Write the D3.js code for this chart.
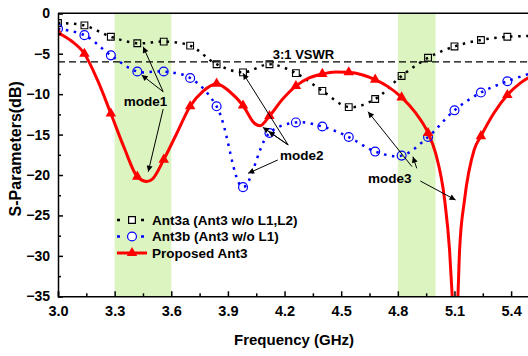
<!DOCTYPE html>
<html>
<head>
<meta charset="utf-8">
<script src="https://cdn.jsdelivr.net/npm/d3@7"></script>
<style>
  body { margin: 0; background: #fff; }
</style>
</head>
<body>
<div id="chart"></div>
<script>
// marker frequencies (GHz) shared by the two reference antennas
const markerFreq = [3.00, 3.14, 3.28, 3.42, 3.56, 3.70, 3.84, 3.98, 4.12, 4.26, 4.40, 4.54, 4.68, 4.82, 4.96, 5.10, 5.24, 5.38, 5.52];
const ant3a = [-1.2, -1.5, -2.9, -3.7, -3.5, -4.0, -6.3, -7.3, -6.3, -7.4, -9.6, -11.6, -10.6, -7.75, -5.5, -4.1, -3.3, -2.9, -2.8];
const ant3b = [-1.9, -2.7, -5.2, -7.2, -7.2, -8.0, -11.5, -21.5, -14.8, -13.5, -14.0, -15.3, -17.1, -17.6, -15.3, -12.0, -9.8, -8.4, -7.3];

// proposed antenna, denser sampling around the resonances
const propFreq = [3.00, 3.07, 3.14, 3.21, 3.28, 3.35, 3.42, 3.47, 3.50, 3.56, 3.63, 3.70, 3.77, 3.84, 3.91, 3.98, 4.04, 4.07, 4.12, 4.19, 4.26, 4.33, 4.40, 4.47, 4.54, 4.61, 4.68, 4.75, 4.82, 4.89, 4.96, 5.00, 5.048, 5.074, 5.088, 5.10, 5.118, 5.127, 5.153, 5.204, 5.24, 5.31, 5.38, 5.45, 5.52];
const proposed = [-2.4, -3.4, -5.0, -8.3, -12.4, -16.6, -20.2, -20.8, -20.5, -18.1, -14.8, -11.5, -9.6, -8.7, -9.7, -11.4, -13.6, -13.9, -12.7, -10.6, -9.0, -8.0, -7.5, -7.25, -7.3, -7.6, -8.2, -9.1, -10.4, -12.2, -14.8, -17.3, -23.1, -29.3, -35, -39, -35, -29.3, -23.1, -16.9, -15.2, -12.3, -10.1, -8.6, -7.6];

const bands = [[3.3, 3.6], [4.8, 5.0]];
const vswrLevel = -6;
const xTicks = [3.0, 3.3, 3.6, 3.9, 4.2, 4.5, 4.8, 5.1, 5.4];
const xMinor = [3.15, 3.45, 3.75, 4.05, 4.35, 4.65, 4.95, 5.25];
const yTicks = [0, -5, -10, -15, -20, -25, -30, -35];
const yMinor = [-2.5, -7.5, -12.5, -17.5, -22.5, -27.5, -32.5];

const legendLabels = ["Ant3a (Ant3 w/o L1,L2)", "Ant3b (Ant3 w/o L1)", "Proposed Ant3"];

// annotation labels and arrows, in data units [freq, dB]
const modeLabels = [
    { text: "mode1", at: [3.463, -11.46] },
    { text: "mode2", at: [4.291, -18.14] },
    { text: "mode3", at: [4.757, -21.0] }
];
const arrows = [
    [[3.557, -9.7], [3.451, -4.13]],
    [[3.557, -9.7], [3.443, -7.63]],
    [[3.557, -11.84], [3.478, -19.59]],
    [[4.219, -16.28], [3.98, -7.42]],
    [[4.219, -16.28], [4.085, -14.1]],
    [[4.219, -16.28], [4.115, -14.6]],
    [[4.164, -18.14], [4.007, -19.79]],
    [[4.875, -18.97], [4.642, -12.17]],
    [[4.90, -19.17], [4.88, -17.73]],
    [[4.919, -20.74], [5.106, -23.09]]
];

const width = 528;
const height = 356;
const plot = { left: 58, right: 530, top: 13.3, bottom: 296.3 };
const font = "Arial, 'Liberation Sans', sans-serif";

const svg = d3.select("#chart")
    .append("svg")
    .attr("width", width)
    .attr("height", height)
    .style("font-family", font)
    .style("font-weight", "bold");

const x = d3.scaleLinear().domain([3.0, 5.5]).range([plot.left, plot.right]);
const y = d3.scaleLinear().domain([-35, 0]).range([plot.bottom, plot.top]);

svg.append("defs").append("clipPath")
    .attr("id", "clip")
    .append("rect")
    .attr("x", plot.left)
    .attr("y", plot.top)
    .attr("width", plot.right - plot.left)
    .attr("height", plot.bottom - plot.top);

svg.append("defs").append("marker")
    .attr("id", "arrow")
    .attr("viewBox", "0 0 10 10")
    .attr("refX", 10)
    .attr("refY", 5)
    .attr("markerWidth", 9)
    .attr("markerHeight", 6)
    .attr("markerUnits", "userSpaceOnUse")
    .attr("orient", "auto")
    .append("path")
    .attr("d", "M0,0L10,5L0,10Z")
    .attr("fill", "#000");

// highlighted bands
svg.selectAll(".band")
    .data(bands)
    .enter()
    .append("rect")
    .attr("class", "band")
    .attr("x", d => x(d[0]))
    .attr("y", plot.top)
    .attr("width", d => x(d[1]) - x(d[0]))
    .attr("height", plot.bottom - plot.top)
    .attr("fill", "#dcf5c0");

const g = svg.append("g").attr("clip-path", "url(#clip)");

// 3:1 VSWR line
g.append("line")
    .attr("x1", plot.left)
    .attr("x2", plot.right)
    .attr("y1", y(vswrLevel))
    .attr("y2", y(vswrLevel))
    .attr("stroke", "#000")
    .attr("stroke-width", 1.3)
    .attr("stroke-dasharray", "7,4");

svg.append("text")
    .attr("x", x(4.30))
    .attr("y", y(vswrLevel) - 3)
    .attr("text-anchor", "middle")
    .attr("font-size", "13px")
    .text("3:1 VSWR");

const lineA = d3.line()
    .x((d, i) => x(markerFreq[i]))
    .y(d => y(d))
    .curve(d3.curveCatmullRom);

g.append("path")
    .datum(ant3a)
    .attr("d", lineA)
    .attr("fill", "none")
    .attr("stroke", "#000")
    .attr("stroke-width", 2.5)
    .attr("stroke-dasharray", "2.5,5.5");

g.append("path")
    .datum(ant3b)
    .attr("d", lineA)
    .attr("fill", "none")
    .attr("stroke", "#0000ff")
    .attr("stroke-width", 2.5)
    .attr("stroke-dasharray", "2.5,5.5");

const lineP = d3.line()
    .x((d, i) => x(propFreq[i]))
    .y(d => y(d))
    .curve(d3.curveMonotoneX);

g.append("path")
    .datum(proposed)
    .attr("d", lineP)
    .attr("fill", "none")
    .attr("stroke", "#ff0000")
    .attr("stroke-width", 3);

const square = d3.symbol().type(d3.symbolSquare).size(46);
const circle = d3.symbol().type(d3.symbolCircle).size(62);
const triangle = d3.symbol().type(d3.symbolTriangle).size(48);

g.selectAll(".sq")
    .data(ant3a)
    .enter()
    .append("path")
    .attr("class", "sq")
    .attr("transform", (d, i) => `translate(${x(markerFreq[i])},${y(d)})`)
    .attr("d", square)
    .attr("fill", "none")
    .attr("stroke", "#000")
    .attr("stroke-width", 1.1);

g.selectAll(".ci")
    .data(ant3b)
    .enter()
    .append("path")
    .attr("class", "ci")
    .attr("transform", (d, i) => `translate(${x(markerFreq[i])},${y(d)})`)
    .attr("d", circle)
    .attr("fill", "none")
    .attr("stroke", "#0000ff")
    .attr("stroke-width", 1.2);

const propMarkers = propFreq
    .map((f, i) => ({ f, v: proposed[i] }))
    .filter(d => markerFreq.some(m => Math.abs(m - d.f) < 1e-6));

g.selectAll(".tri")
    .data(propMarkers)
    .enter()
    .append("path")
    .attr("class", "tri")
    .attr("transform", d => `translate(${x(d.f)},${y(d.v)})`)
    .attr("d", triangle)
    .attr("fill", "#ff0000");

// annotations
svg.selectAll(".arrow")
    .data(arrows)
    .enter()
    .append("line")
    .attr("class", "arrow")
    .attr("x1", d => x(d[0][0]))
    .attr("y1", d => y(d[0][1]))
    .attr("x2", d => x(d[1][0]))
    .attr("y2", d => y(d[1][1]))
    .attr("stroke", "#000")
    .attr("stroke-width", 1)
    .attr("marker-end", "url(#arrow)");

svg.selectAll(".mode")
    .data(modeLabels)
    .enter()
    .append("text")
    .attr("class", "mode")
    .attr("x", d => x(d.at[0]))
    .attr("y", d => y(d.at[1]))
    .attr("text-anchor", "middle")
    .attr("font-size", "13.5px")
    .text(d => d.text);

// axes
const xAxis = svg.append("g")
    .attr("transform", `translate(0,${plot.bottom})`)
    .call(d3.axisBottom(x).tickValues(xTicks).tickSize(-5).tickPadding(9).tickFormat(d3.format(".1f")));
xAxis.selectAll("text").attr("font-size", "14.5px").attr("fill", "#000");

svg.append("g")
    .attr("transform", `translate(0,${plot.bottom})`)
    .call(d3.axisBottom(x).tickValues(xMinor).tickSize(-3).tickFormat(""))
    .select(".domain").remove();

const yAxis = svg.append("g")
    .attr("transform", `translate(${plot.left},0)`)
    .call(d3.axisLeft(y).tickValues(yTicks).tickSize(-5).tickPadding(8));
yAxis.selectAll("text").attr("font-size", "14px").attr("fill", "#000");

svg.append("g")
    .attr("transform", `translate(${plot.left},0)`)
    .call(d3.axisLeft(y).tickValues(yMinor).tickSize(-3).tickFormat(""))
    .select(".domain").remove();

svg.selectAll(".domain, .tick line")
    .attr("stroke", "#000")
    .attr("stroke-width", 1.5);

// outer frame (top)
svg.append("line")
    .attr("x1", plot.left)
    .attr("x2", plot.right)
    .attr("y1", plot.top)
    .attr("y2", plot.top)
    .attr("stroke", "#000")
    .attr("stroke-width", 1.5);

svg.append("text")
    .attr("x", 294)
    .attr("y", 345)
    .attr("text-anchor", "middle")
    .attr("font-size", "15px")
    .text("Frequency (GHz)");

svg.append("text")
    .attr("transform", `translate(21,${(plot.top + plot.bottom) / 2 - 6}) rotate(-90)`)
    .attr("text-anchor", "middle")
    .attr("font-size", "16px")
    .text("S-Parameters(dB)");

// legend
const legend = svg.append("g").attr("transform", "translate(117,220)");
const legendStyles = [
    { stroke: "#000", dash: "3,9", sym: square, fill: "none" },
    { stroke: "#0000ff", dash: "3,9", sym: circle, fill: "none" },
    { stroke: "#ff0000", dash: null, sym: triangle, fill: "#ff0000" }
];

legendLabels.forEach((label, i) => {
    const row = legend.append("g").attr("transform", `translate(0,${i * 16.5})`);
    const s = legendStyles[i];
    row.append("line")
        .attr("x1", 0)
        .attr("x2", 30)
        .attr("stroke", s.stroke)
        .attr("stroke-width", i === 2 ? 3 : 2.5)
        .attr("stroke-dasharray", s.dash);
    row.append("path")
        .attr("transform", "translate(15,0)")
        .attr("d", s.sym)
        .attr("fill", s.fill === "none" ? "#fff" : s.fill)
        .attr("stroke", i === 2 ? "none" : s.stroke)
        .attr("stroke-width", 1.2);
    row.append("text")
        .attr("x", 35)
        .attr("dy", "0.35em")
        .attr("font-size", "13.5px")
        .text(label);
});
</script>
</body>
</html>
